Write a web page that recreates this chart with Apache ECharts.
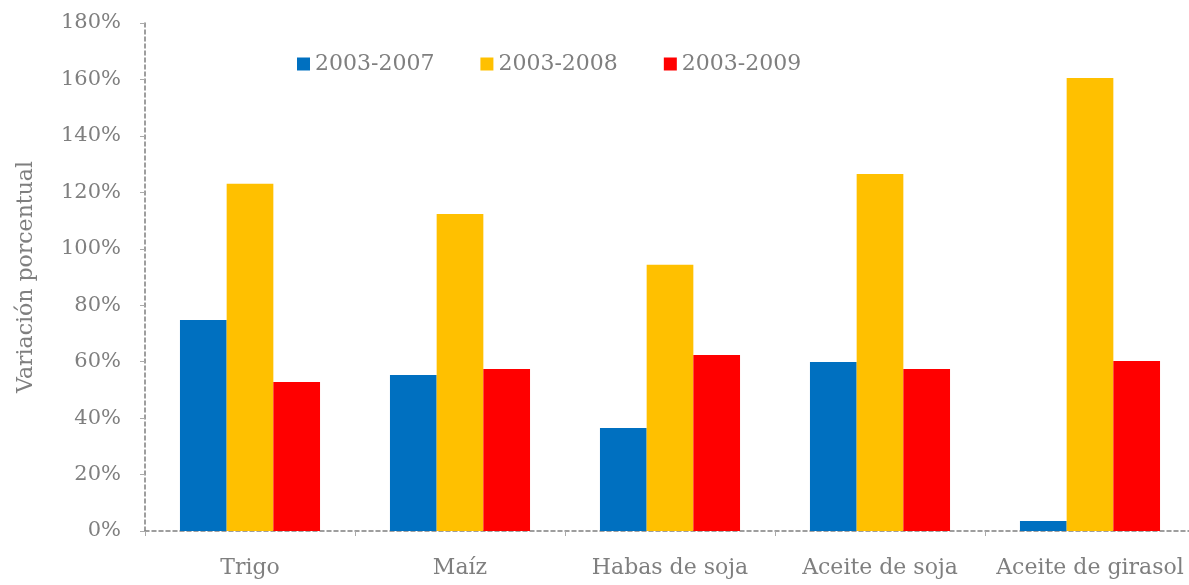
<!DOCTYPE html>
<html>
<head>
<meta charset="utf-8">
<script src="https://cdn.jsdelivr.net/npm/echarts@6/dist/echarts.min.js"></script>
<style>
  html, body { margin: 0; padding: 0; background: #fff; overflow: hidden; }
  #chart { width: 1200px; height: 585px; }
</style>
</head>
<body>
<div id="chart"></div>
<script>
const categories = ['Trigo', 'Maíz', 'Habas de soja', 'Aceite de soja', 'Aceite de girasol']
const s2007 = [74.8, 55.3, 36.5, 59.9, 3.5]
const s2008 = [123.0, 112.3, 94.3, 126.5, 160.5]
const s2009 = [52.8, 57.4, 62.4, 57.4, 60.2]

const font = 'DejaVu Serif'
const grey = '#7f7f7f'
const axisLine = { lineStyle: { color: '#7f7f7f', type: [4, 3], width: 1.5 } }

const chart = echarts.init(document.getElementById('chart'))
chart.setOption({
  backgroundColor: '#fff',
  textStyle: { fontFamily: font, color: grey },
  animation: false,
  legend: {
    top: 48, left: 292,
    itemWidth: 13, itemHeight: 13, itemGap: 46,
    icon: 'rect',
    textStyle: { fontFamily: font, color: grey, fontSize: 22 },
    data: ['2003-2007', '2003-2008', '2003-2009']
  },
  grid: { left: 145, top: 23, bottom: 54, right: 5 },
  xAxis: {
    type: 'category',
    data: categories,
    axisLine: axisLine,
    axisTick: { show: true, length: 5, lineStyle: { color: '#aaa' } },
    axisLabel: { color: grey, fontSize: 22, margin: 26, fontFamily: font, interval: 0 }
  },
  yAxis: {
    type: 'value',
    min: 0, max: 180, interval: 20,
    name: 'Variación porcentual',
    nameLocation: 'middle',
    nameGap: 108,
    nameTextStyle: { color: grey, fontSize: 22, fontFamily: font },
    axisLine: { show: true, ...axisLine },
    axisTick: { show: true, length: 5, lineStyle: { color: '#aaa' } },
    splitLine: { show: false },
    axisLabel: { color: grey, fontSize: 21, margin: 24, fontFamily: font, formatter: '{value}%' }
  },
  series: [
    { name: '2003-2007', type: 'bar', data: s2007, color: '#0070c0', barGap: '0%', barCategoryGap: '33.3%' },
    { name: '2003-2008', type: 'bar', data: s2008, color: '#ffc000', barGap: '0%', barCategoryGap: '33.3%' },
    { name: '2003-2009', type: 'bar', data: s2009, color: '#ff0000', barGap: '0%', barCategoryGap: '33.3%' }
  ]
})
</script>
</body>
</html>
